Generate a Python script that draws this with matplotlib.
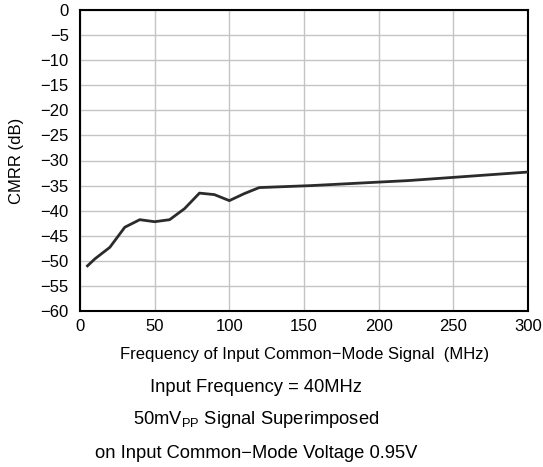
import matplotlib
matplotlib.use("Agg")
import matplotlib.pyplot as plt

plt.rcParams['font.family'] = ['Liberation Sans', 'DejaVu Sans']
plt.rcParams['mathtext.fontset'] = 'custom'
plt.rcParams['mathtext.rm'] = 'Liberation Sans'
plt.rcParams['mathtext.it'] = 'Liberation Sans'

freq_mhz = [5, 10, 20, 30, 40, 50, 60, 70, 80, 90, 100, 110, 120, 155, 220, 300]
cmrr_db = [-51.0, -49.6, -47.3, -43.3, -41.8, -42.2, -41.8, -39.6, -36.5, -36.8, -38.0, -36.6, -35.4, -35.0, -34.0, -32.3]

x_ticks = [0, 50, 100, 150, 200, 250, 300]
y_ticks = list(range(-60, 1, 5))

fig = plt.figure(figsize=(5.43, 4.67), dpi=100)
ax = fig.add_axes([80/543, 1-311/467, 448/543, 301/467])

ax.plot(freq_mhz, cmrr_db, color='#2b2b2b', lw=2.0, solid_joinstyle='round', zorder=3)
ax.set_xlim(0, 300)
ax.set_ylim(-60, 0)
ax.set_xticks(x_ticks)
ax.set_yticks(y_ticks)
ax.set_yticklabels([str(v).replace('-', '\u2212') for v in y_ticks])
ax.grid(True, color='#c4c4c4', lw=1.0)
ax.tick_params(length=0, labelsize=12, colors='black')
ax.tick_params(axis='y', pad=8)
ax.tick_params(axis='x', pad=6)
for s in ax.spines.values():
    s.set_linewidth(1.5)
    s.set_color('black')

ax.set_xlabel('Frequency of Input Common\u2212Mode Signal  (MHz)', fontsize=12, va='center')
ax.xaxis.set_label_coords((305-80)/448, -(354-311)/301)
ax.set_ylabel('CMRR (dB)', fontsize=12, va='center')
ax.yaxis.set_label_coords((17-80)/448, 0.5)

fig.text(256/543, 1-388/467, 'Input Frequency = 40MHz', ha='center', va='center', fontsize=13.2)
fig.text(256/543, 1-420/467, '50mV$_{\\mathrm{PP}}$ Signal Superimposed', ha='center', va='center', fontsize=13.2)
fig.text(256/543, 1-453/467, 'on Input Common\u2212Mode Voltage 0.95V', ha='center', va='center', fontsize=13.2)

fig.savefig('out.png', dpi=100)
